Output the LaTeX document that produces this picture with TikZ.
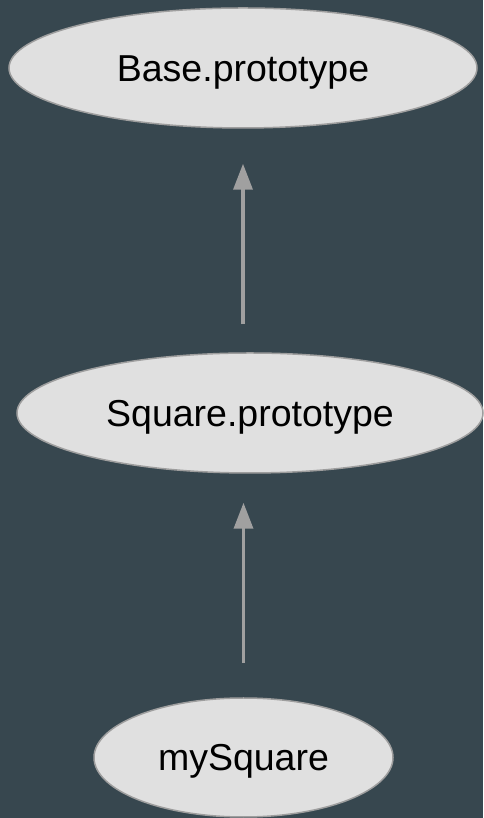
\documentclass[tikz,border=0pt]{standalone}
\usepackage{fontspec}
\setmainfont{Liberation Sans}
\usetikzlibrary{shapes.geometric,arrows.meta}
\definecolor{bgc}{HTML}{37474F}
\definecolor{ellfill}{HTML}{E0E0E0}
\definecolor{ellline}{HTML}{9E9E9E}
\definecolor{arrc}{HTML}{A0A0A0}
\begin{document}
\begin{tikzpicture}[x=1pt,y=1pt,
  protonode/.style={ellipse, draw=ellline, line width=1.5pt, fill=ellfill, inner sep=0pt,
    font=\fontsize{37.5}{42}\selectfont, text=black, text height=27pt, text depth=0pt},
  linkarrow/.style={draw=arrc, line width=3.5pt, -{Triangle[width=19pt,length=26pt]}}]
\fill[bgc] (0,0) rectangle (483,818);
\useasboundingbox (0,0) rectangle (483,818);
\node[protonode, minimum width=468pt, minimum height=120pt] (base) at (243,750) {Base.prototype};
\node[protonode, minimum width=466pt, minimum height=120pt] (sq) at (250,405) {Square.prototype};
\node[protonode, minimum width=299pt, minimum height=119pt] (my) at (243.5,60.5) {mySquare};
\draw[linkarrow, shorten <=28pt, shorten >=35pt] (sq.north -| base.south) -- (base.south);
\draw[linkarrow, shorten <=34pt, shorten >=29pt] (my.north) -- (sq.south -| my.north);
\end{tikzpicture}
\end{document}
